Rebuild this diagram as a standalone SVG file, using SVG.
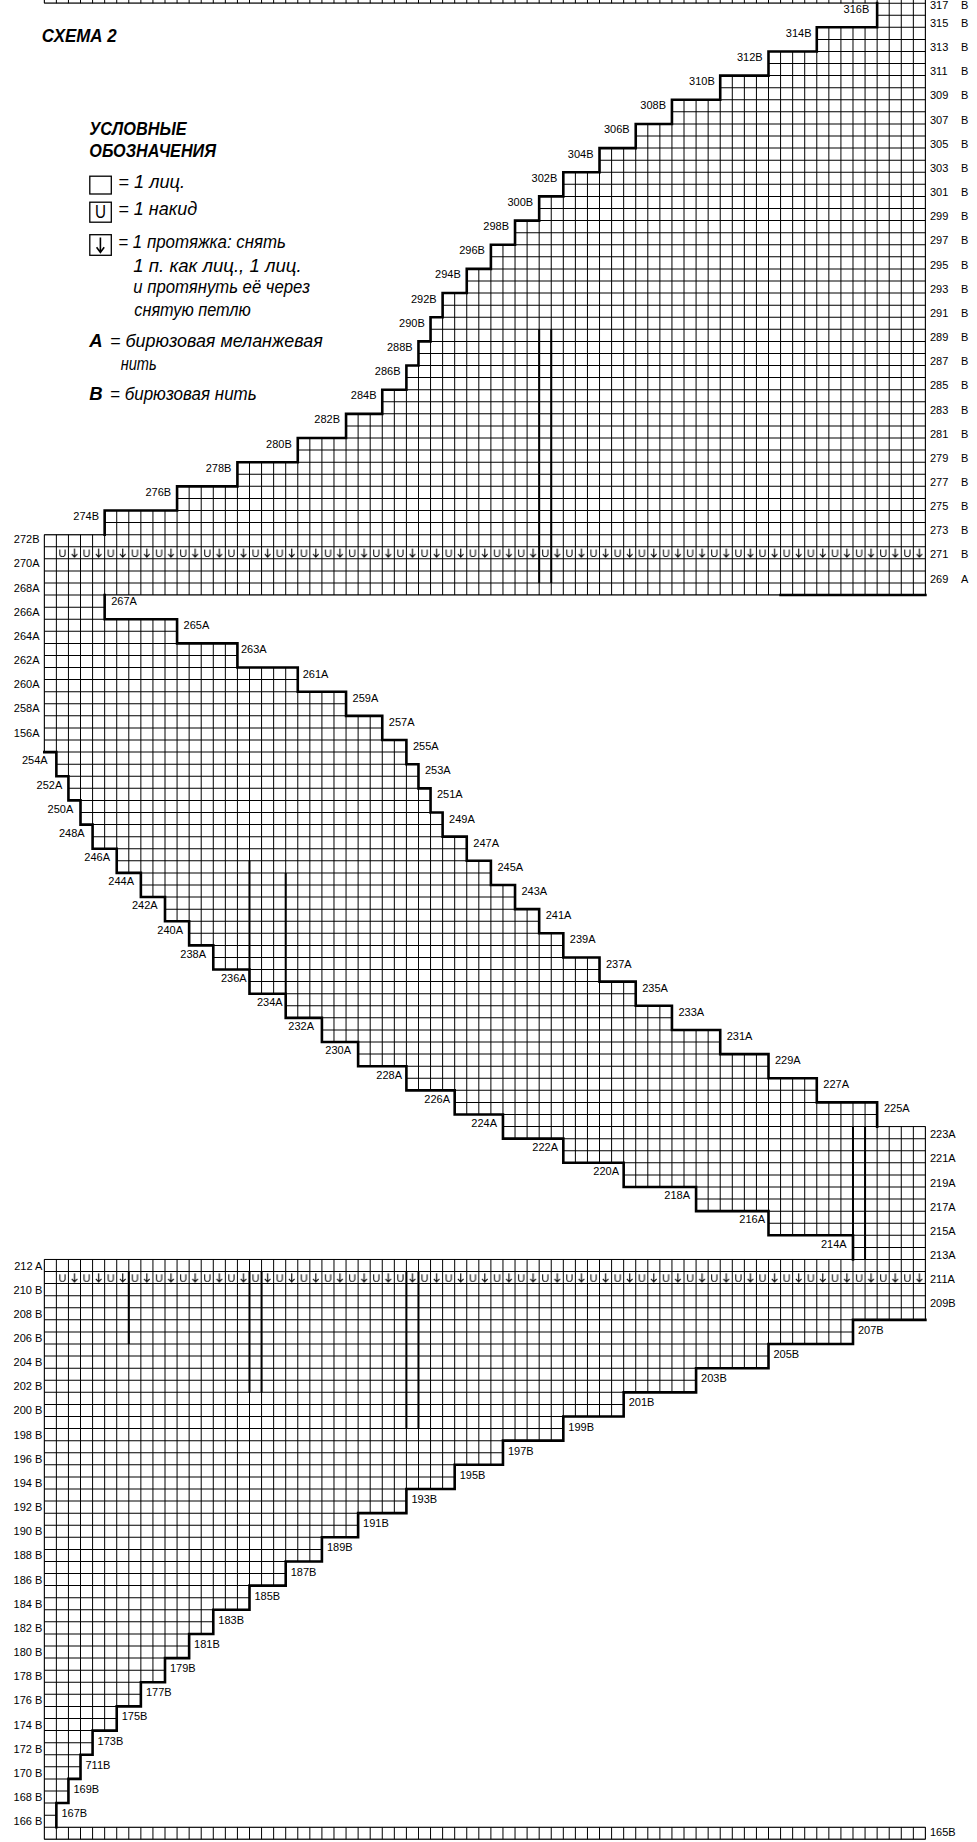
<svg xmlns="http://www.w3.org/2000/svg" xmlns:xlink="http://www.w3.org/1999/xlink" width="977" height="1842" viewBox="0 0 977 1842">
<style>
.l{font-family:"Liberation Sans",Arial,sans-serif;font-size:11px;fill:#000}
.e{text-anchor:end}
.lg{font-family:"Liberation Sans",Arial,sans-serif;font-style:italic;font-size:17.5px;fill:#000}
.hd{font-family:"Liberation Sans",Arial,sans-serif;font-style:italic;font-weight:bold;font-size:18.5px;fill:#000}
.thk{fill:none;stroke:#000;stroke-width:2.6;stroke-linecap:square;stroke-linejoin:miter}
.mk{fill:none;stroke:#000;stroke-width:2}
.box{fill:#fff;stroke:#000;stroke-width:1.3}
</style>
<defs>
<path id="shape" d="M44.3 1839.3H925.41V1827.22H56.37V1803.06H68.44V1778.9H80.51V1754.74H92.58V1730.58H116.72V1706.42H140.86V1682.26H165V1658.1H189.14V1633.94H213.28V1609.78H249.49V1585.62H285.7V1561.46H321.91V1537.3H358.12V1513.14H406.4V1488.98H454.68V1464.82H502.96V1440.66H563.31V1416.5H623.66V1392.34H696.08V1368.18H768.5V1344.02H852.99V1319.86H925.41V1126.58H877.13V1102.42H816.78V1078.26H768.5V1054.1H720.22V1029.94H671.94V1005.78H635.73V981.62H599.52V957.46H563.31V933.3H539.17V909.14H515.03V884.98H490.89V860.82H466.75V836.66H442.61V812.5H430.54V788.34H418.47V764.18H406.4V740.02H382.26V715.86H346.05V691.7H297.77V667.54H237.42V643.38H177.07V619.22H104.65V595.06H925.41V-8.94H44.3V3.14H877.13V27.3H816.78V51.46H768.5V75.62H720.22V99.78H671.94V123.94H635.73V148.1H599.52V172.26H563.31V196.42H539.17V220.58H515.03V244.74H490.89V268.9H466.75V293.06H442.61V317.22H430.54V341.38H418.47V365.54H406.4V389.7H382.26V413.86H346.05V438.02H297.77V462.18H237.42V486.34H177.07V510.5H104.65V534.66H44.3V752.1H56.37V776.26H68.44V800.42H80.51V824.58H92.58V848.74H116.72V872.9H140.86V897.06H165V921.22H189.14V945.38H213.28V969.54H249.49V993.7H285.7V1017.86H321.91V1042.02H358.12V1066.18H406.4V1090.34H454.68V1114.5H502.96V1138.66H563.31V1162.82H623.66V1186.98H696.08V1211.14H768.5V1235.3H852.99V1259.46H44.3Z"/>
<clipPath id="clip"><use xlink:href="#shape"/></clipPath>
<pattern id="uv" patternUnits="userSpaceOnUse" x="56.37" y="546.74" width="24.14" height="12.08">
<text x="6.04" y="10.2" text-anchor="middle" font-family="Liberation Sans, Arial, sans-serif" font-size="11">U</text>
<path d="M18.1 1.8V10.4M15.3 7.4L18.1 10.4L20.9 7.4" fill="none" stroke="#000" stroke-width="1.1"/>
</pattern>
</defs>
<rect width="977" height="1842" fill="#fff"/>

<g id="grid">
<use xlink:href="#shape" fill="#fff"/>
<g clip-path="url(#clip)" fill="none" stroke="#000">
<path d="M485 2.64V1840" stroke-width="882" stroke-dasharray="1 11.08"/>
<path d="M43.8 920H926" stroke-width="1860" stroke-dasharray="1 11.07"/>
</g>
<rect x="56.37" y="546.74" width="869.04" height="12.08" fill="url(#uv)"/>
<rect x="56.37" y="1271.54" width="869.04" height="12.08" fill="url(#uv)"/>
<use xlink:href="#shape" fill="none" stroke="#000" stroke-width="1"/>
</g>

<g id="markers">
<path class="mk" d="M539.17 329.3V583M551.24 329.3V583"/>
<path class="mk" d="M249.49 860.82V969.54M285.7 872.9V993.7"/>
<path class="mk" d="M852.99 1126.58V1235.3M865.06 1126.58V1259.46"/>
<path class="mk" d="M128.79 1271.54V1344.02M249.49 1271.54V1392.34M261.56 1271.54V1392.34M406.4 1271.54V1428.58M418.47 1271.54V1428.58"/>
</g>

<g id="steps">
<path class="thk" d="M104.65 534.66V510.5H177.07V486.34H237.42V462.18H297.77V438.02H346.05V413.86H382.26V389.7H406.4V365.54H418.47V341.38H430.54V317.22H442.61V293.06H466.75V268.9H490.89V244.74H515.03V220.58H539.17V196.42H563.31V172.26H599.52V148.1H635.73V123.94H671.94V99.78H720.22V75.62H768.5V51.46H816.78V27.3H877.13V3.14"/>
<path class="thk" d="M104.65 595.06V619.22H177.07V643.38H237.42V667.54H297.77V691.7H346.05V715.86H382.26V740.02H406.4V764.18H418.47V788.34H430.54V812.5H442.61V836.66H466.75V860.82H490.89V884.98H515.03V909.14H539.17V933.3H563.31V957.46H599.52V981.62H635.73V1005.78H671.94V1029.94H720.22V1054.1H768.5V1078.26H816.78V1102.42H877.13V1126.58"/>
<path class="thk" d="M44.3 752.1H56.37V776.26H68.44V800.42H80.51V824.58H92.58V848.74H116.72V872.9H140.86V897.06H165V921.22H189.14V945.38H213.28V969.54H249.49V993.7H285.7V1017.86H321.91V1042.02H358.12V1066.18H406.4V1090.34H454.68V1114.5H502.96V1138.66H563.31V1162.82H623.66V1186.98H696.08V1211.14H768.5V1235.3H852.99V1259.46"/>
<path class="thk" d="M56.37 1827.22V1803.06H68.44V1778.9H80.51V1754.74H92.58V1730.58H116.72V1706.42H140.86V1682.26H165V1658.1H189.14V1633.94H213.28V1609.78H249.49V1585.62H285.7V1561.46H321.91V1537.3H358.12V1513.14H406.4V1488.98H454.68V1464.82H502.96V1440.66H563.31V1416.5H623.66V1392.34H696.08V1368.18H768.5V1344.02H852.99V1319.86H925.41"/>
<path class="thk" d="M780.57 595.06H925.41"/>
</g>

<g id="labels-right" class="l">
<text x="930" y="8.6">317<tspan x="961">B</tspan></text>
<text x="930" y="26.9">315<tspan x="961">B</tspan></text>
<text x="930" y="51.1">313<tspan x="961">B</tspan></text>
<text x="930" y="75.2">311<tspan x="961">B</tspan></text>
<text x="930" y="99.4">309<tspan x="961">B</tspan></text>
<text x="930" y="123.5">307<tspan x="961">B</tspan></text>
<text x="930" y="147.7">305<tspan x="961">B</tspan></text>
<text x="930" y="171.9">303<tspan x="961">B</tspan></text>
<text x="930" y="196">301<tspan x="961">B</tspan></text>
<text x="930" y="220.2">299<tspan x="961">B</tspan></text>
<text x="930" y="244.3">297<tspan x="961">B</tspan></text>
<text x="930" y="268.5">295<tspan x="961">B</tspan></text>
<text x="930" y="292.7">293<tspan x="961">B</tspan></text>
<text x="930" y="316.8">291<tspan x="961">B</tspan></text>
<text x="930" y="341">289<tspan x="961">B</tspan></text>
<text x="930" y="365.1">287<tspan x="961">B</tspan></text>
<text x="930" y="389.3">285<tspan x="961">B</tspan></text>
<text x="930" y="413.5">283<tspan x="961">B</tspan></text>
<text x="930" y="437.6">281<tspan x="961">B</tspan></text>
<text x="930" y="461.8">279<tspan x="961">B</tspan></text>
<text x="930" y="485.9">277<tspan x="961">B</tspan></text>
<text x="930" y="510.1">275<tspan x="961">B</tspan></text>
<text x="930" y="534.3">273<tspan x="961">B</tspan></text>
<text x="930" y="558.4">271<tspan x="961">B</tspan></text>
<text x="930" y="582.6">269<tspan x="961">A</tspan></text>
<text x="930" y="1138.3">223A</text>
<text x="930" y="1162.4">221A</text>
<text x="930" y="1186.6">219A</text>
<text x="930" y="1210.7">217A</text>
<text x="930" y="1234.9">215A</text>
<text x="930" y="1259.1">213A</text>
<text x="930" y="1283.2">211A</text>
<text x="930" y="1306.8">209B</text>
<text x="930" y="1836.3">165B</text>
</g>

<g id="labels-left" class="l e">
<text x="39.5" y="543.2">272B</text>
<text x="39.5" y="567.4">270A</text>
<text x="39.5" y="591.5">268A</text>
<text x="39.5" y="615.7">266A</text>
<text x="39.5" y="639.8">264A</text>
<text x="39.5" y="664">262A</text>
<text x="39.5" y="688.2">260A</text>
<text x="39.5" y="712.3">258A</text>
<text x="39.5" y="736.5">156A</text>
<text x="42.3" y="1269.5">212 A</text>
<text x="42.3" y="1293.6">210 B</text>
<text x="42.3" y="1317.8">208 B</text>
<text x="42.3" y="1341.9">206 B</text>
<text x="42.3" y="1366.1">204 B</text>
<text x="42.3" y="1390.3">202 B</text>
<text x="42.3" y="1414.4">200 B</text>
<text x="42.3" y="1438.6">198 B</text>
<text x="42.3" y="1462.7">196 B</text>
<text x="42.3" y="1486.9">194 B</text>
<text x="42.3" y="1511.1">192 B</text>
<text x="42.3" y="1535.2">190 B</text>
<text x="42.3" y="1559.4">188 B</text>
<text x="42.3" y="1583.5">186 B</text>
<text x="42.3" y="1607.7">184 B</text>
<text x="42.3" y="1631.9">182 B</text>
<text x="42.3" y="1656">180 B</text>
<text x="42.3" y="1680.2">178 B</text>
<text x="42.3" y="1704.3">176 B</text>
<text x="42.3" y="1728.5">174 B</text>
<text x="42.3" y="1752.7">172 B</text>
<text x="42.3" y="1776.8">170 B</text>
<text x="42.3" y="1801">168 B</text>
<text x="42.3" y="1825.1">166 B</text>
</g>

<g id="labels-top-steps" class="l e">
<text x="99" y="520">274B</text>
<text x="171.1" y="495.8">276B</text>
<text x="231.4" y="471.7">278B</text>
<text x="291.8" y="447.5">280B</text>
<text x="340" y="423.4">282B</text>
<text x="376.5" y="399.2">284B</text>
<text x="400.5" y="375">286B</text>
<text x="412.6" y="350.9">288B</text>
<text x="424.8" y="326.7">290B</text>
<text x="436.7" y="302.6">292B</text>
<text x="460.8" y="278.4">294B</text>
<text x="484.9" y="254.2">296B</text>
<text x="509" y="230.1">298B</text>
<text x="533.2" y="205.9">300B</text>
<text x="557.3" y="181.8">302B</text>
<text x="593.5" y="157.6">304B</text>
<text x="629.7" y="133.4">306B</text>
<text x="666" y="109.3">308B</text>
<text x="714.8" y="85.1">310B</text>
<text x="762.6" y="61">312B</text>
<text x="811.5" y="36.8">314B</text>
<text x="869.3" y="12.6">316B</text>
</g>

<g id="labels-mid-right" class="l">
<text x="111.2" y="605.1">267A</text>
<text x="183.6" y="629.2">265A</text>
<text x="241" y="653">263A</text>
<text x="302.7" y="677.5">261A</text>
<text x="352.6" y="701.7">259A</text>
<text x="388.8" y="725.9">257A</text>
<text x="412.9" y="750">255A</text>
<text x="425" y="774.2">253A</text>
<text x="437" y="798.3">251A</text>
<text x="449.1" y="822.5">249A</text>
<text x="473.3" y="846.7">247A</text>
<text x="497.4" y="870.8">245A</text>
<text x="521.5" y="895">243A</text>
<text x="545.7" y="919.1">241A</text>
<text x="569.8" y="943.3">239A</text>
<text x="606" y="967.5">237A</text>
<text x="642.2" y="991.6">235A</text>
<text x="678.4" y="1015.8">233A</text>
<text x="726.7" y="1039.9">231A</text>
<text x="775" y="1064.1">229A</text>
<text x="823.3" y="1088.3">227A</text>
<text x="884" y="1111.6">225A</text>
</g>

<g id="labels-mid-left" class="l e">
<text x="47.7" y="764.4">254A</text>
<text x="62.3" y="788.6">252A</text>
<text x="73.3" y="812.7">250A</text>
<text x="84.7" y="836.9">248A</text>
<text x="110" y="861">246A</text>
<text x="134" y="885.2">244A</text>
<text x="157.7" y="909.4">242A</text>
<text x="183" y="933.5">240A</text>
<text x="206" y="957.7">238A</text>
<text x="246.7" y="981.8">236A</text>
<text x="282.7" y="1006">234A</text>
<text x="314" y="1030.2">232A</text>
<text x="351" y="1054.3">230A</text>
<text x="402" y="1078.5">228A</text>
<text x="450" y="1102.6">226A</text>
<text x="497" y="1126.8">224A</text>
<text x="558" y="1151">222A</text>
<text x="619" y="1175.1">220A</text>
<text x="690" y="1199.3">218A</text>
<text x="765" y="1223.4">216A</text>
<text x="846.7" y="1247.6">214A</text>
</g>

<g id="labels-bottom-steps" class="l">
<text x="61.5" y="1817">167B</text>
<text x="73.4" y="1792.9">169B</text>
<text x="85.5" y="1768.7">711B</text>
<text x="97.6" y="1744.6">173B</text>
<text x="121.7" y="1720.4">175B</text>
<text x="145.9" y="1696.3">177B</text>
<text x="170" y="1672.1">179B</text>
<text x="194.1" y="1647.9">181B</text>
<text x="218.3" y="1623.8">183B</text>
<text x="254.5" y="1599.6">185B</text>
<text x="290.7" y="1575.5">187B</text>
<text x="326.9" y="1551.3">189B</text>
<text x="363.1" y="1527.1">191B</text>
<text x="411.4" y="1503">193B</text>
<text x="459.7" y="1478.8">195B</text>
<text x="508" y="1454.7">197B</text>
<text x="568.3" y="1430.5">199B</text>
<text x="628.7" y="1406.3">201B</text>
<text x="701.1" y="1382.2">203B</text>
<text x="773.5" y="1358">205B</text>
<text x="858" y="1333.9">207B</text>
</g>

<g id="legend">
<text class="hd" x="41.7" y="41.7" textLength="75" lengthAdjust="spacingAndGlyphs">СХЕМА 2</text>
<text class="hd" x="89.3" y="135" textLength="97.4" lengthAdjust="spacingAndGlyphs">УСЛОВНЫЕ</text>
<text class="hd" x="89.3" y="157.3" textLength="126.7" lengthAdjust="spacingAndGlyphs">ОБОЗНАЧЕНИЯ</text>
<rect class="box" x="89.8" y="176.2" width="21.5" height="17.8"/>
<rect class="box" x="89.8" y="202.2" width="21.5" height="20"/>
<text x="100.5" y="218.4" text-anchor="middle" font-family="Liberation Sans, Arial, sans-serif" font-size="18" textLength="11" lengthAdjust="spacingAndGlyphs">U</text>
<rect class="box" x="89.8" y="234.7" width="21.5" height="20.6"/>
<path d="M100.4 237.6V252.4M96.6 247.2L100.4 252.4L104.2 247.2" fill="none" stroke="#000" stroke-width="1.6"/>
<text class="lg" x="118.3" y="188.3" textLength="66.7" lengthAdjust="spacingAndGlyphs">= 1 лиц.</text>
<text class="lg" x="118.3" y="215" textLength="79" lengthAdjust="spacingAndGlyphs">= 1 накид</text>
<text class="lg" x="118.3" y="248.3" textLength="167.7" lengthAdjust="spacingAndGlyphs">= 1 протяжка: снять</text>
<text class="lg" x="133.3" y="271.7" textLength="168.3" lengthAdjust="spacingAndGlyphs">1 п. как лиц., 1 лиц.</text>
<text class="lg" x="133.3" y="293.3" textLength="176.7" lengthAdjust="spacingAndGlyphs">и протянуть её через</text>
<text class="lg" x="134.3" y="316" textLength="116.4" lengthAdjust="spacingAndGlyphs">снятую петлю</text>
<text class="hd" x="89.3" y="346.7">A</text>
<text class="lg" x="110" y="346.7" textLength="212.7" lengthAdjust="spacingAndGlyphs">= бирюзовая меланжевая</text>
<text class="lg" x="120.7" y="370" textLength="36" lengthAdjust="spacingAndGlyphs">нить</text>
<text class="hd" x="89.3" y="400">B</text>
<text class="lg" x="110" y="400" textLength="146.7" lengthAdjust="spacingAndGlyphs">= бирюзовая нить</text>
</g>
</svg>
